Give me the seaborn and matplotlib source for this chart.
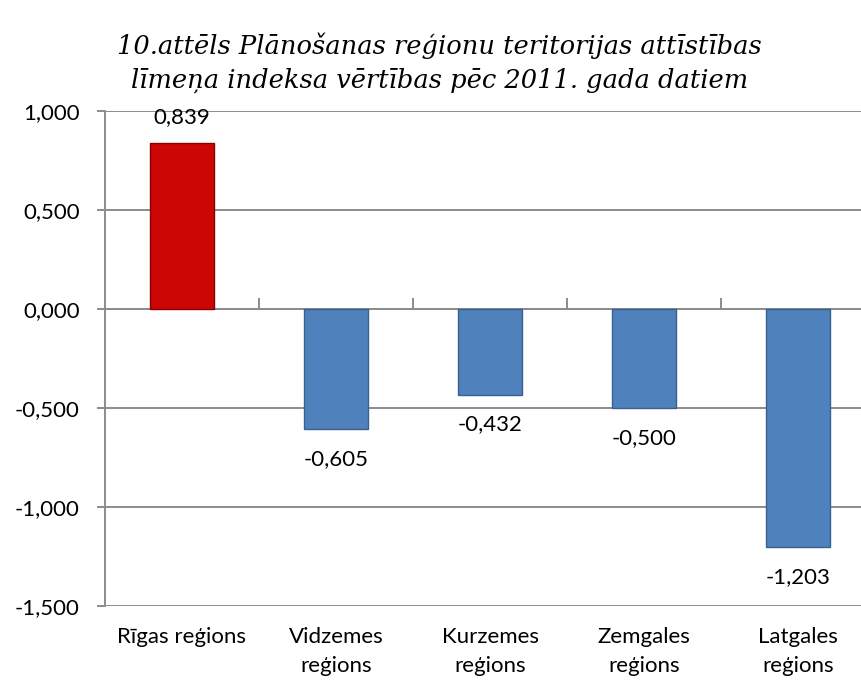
import matplotlib
matplotlib.use("Agg")
import matplotlib.pyplot as plt
import seaborn as sns
import numpy as np
import pandas as pd

# dati
regioni = ["Rīgas reģions", "Vidzemes\nreģions", "Kurzemes\nreģions", "Zemgales\nreģions", "Latgales\nreģions"]
vertibas = [0.839, -0.605, -0.432, -0.500, -1.203]
krasas = ["#CC0505", "#4F81BD", "#4F81BD", "#4F81BD", "#4F81BD"]
maliņas = ["#8A0000", "#38618F", "#38618F", "#38618F", "#38618F"]
y_ticks = [-1.5, -1.0, -0.5, 0.0, 0.5, 1.0]

virsraksts = "10.attēls Plānošanas reģionu teritorijas attīstības\nlīmeņa indeksa vērtības pēc 2011. gada datiem"

def fmt(v):
    return f"{v:.3f}".replace(".", ",")

sns.set_style("white")
plt.rcParams["font.family"] = ["Lato", "DejaVu Sans"]
plt.rcParams["text.color"] = "black"
plt.rcParams["xtick.labelcolor"] = "black"
plt.rcParams["ytick.labelcolor"] = "black"

df = pd.DataFrame({"regions": regioni, "vertiba": vertibas})

fig = plt.figure(figsize=(8.62, 6.83), dpi=100)
ax = fig.add_axes([0.1218, 0.1127, 0.8933, 0.7248])

sns.barplot(data=df, x="regions", y="vertiba", hue="regions", palette=krasas,
            saturation=1, width=0.41, legend=False, ax=ax, linewidth=1.0, zorder=3)
for p, c in zip(ax.patches, maliņas):
    p.set_edgecolor(c)

ax.set_ylim(-1.5, 1.0)
ax.set_xlim(-0.5, len(regioni) - 0.5)
ax.set_yticks(y_ticks)
ax.set_yticklabels([fmt(t) for t in y_ticks], fontsize=16, color="black")
ax.yaxis.grid(True, color="#8c8c8c", linewidth=1.4, zorder=0)
ax.set_axisbelow(True)

for s in ["top", "right"]:
    ax.spines[s].set_visible(False)
ax.spines["left"].set_color("#8c8c8c")
ax.spines["left"].set_linewidth(1.4)
ax.spines["bottom"].set_position(("data", 0))
ax.spines["bottom"].set_color("#8c8c8c")
ax.spines["bottom"].set_linewidth(1.4)
ax.tick_params(axis="y", left=True, length=6, color="#8c8c8c", width=1.4, pad=12)

# ķeksīši starp kategorijām uz nulles ass
ax.set_xticks(np.arange(len(regioni)) + 0.5, minor=True)
ax.tick_params(axis="x", which="minor", bottom=True, direction="in", length=8, color="#8c8c8c", width=1.4)
ax.tick_params(axis="x", which="major", bottom=False, labelbottom=False)
ax.set_xlabel("")
ax.set_ylabel("")

sec = ax.secondary_xaxis(0.0)
sec.set_xticks(np.arange(len(regioni)))
sec.set_xticklabels(regioni, fontsize=16, linespacing=1.55, color="black")
sec.tick_params(length=0, pad=15)
sec.spines["bottom"].set_visible(False)

for i, v in enumerate(vertibas):
    off = 18.5 if v > 0 else -21.5
    ax.annotate(fmt(v), (i, v), xytext=(0, off), textcoords="offset points",
                ha="center", va="center", fontsize=16, color="black")

fig.text(0.51, 0.908, virsraksts, ha="center", va="center", fontsize=18.5,
         style="italic", family=["DejaVu Serif"], linespacing=1.4, color="black")

fig.savefig("out.png", dpi=100)
